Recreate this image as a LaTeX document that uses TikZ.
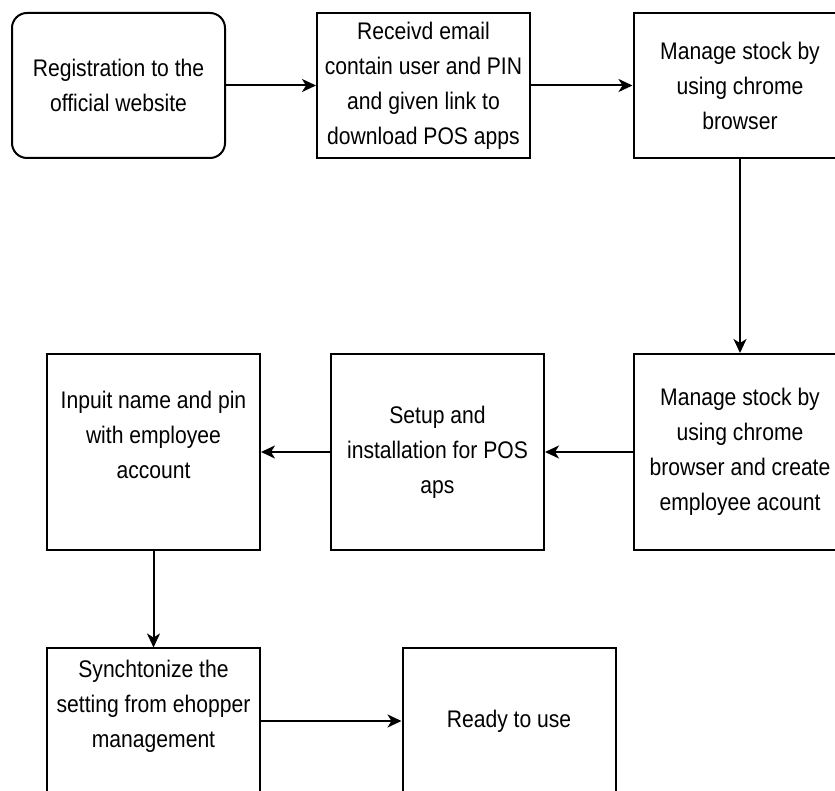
\documentclass[tikz,border=0pt]{standalone}
\usepackage{fontspec}
\setmainfont[FakeStretch=0.88]{Liberation Sans}
\usepackage{tikz}
\usetikzlibrary{arrows.meta, positioning}

\begin{document}
\begin{tikzpicture}[x=1pt, y=1pt,
    box/.style={draw=black, line width=2pt, fill=white,
                minimum width=213pt, minimum height=145pt, inner sep=0pt,
                align=center, font=\fontsize{24}{35}\selectfont},
    tall/.style={box, minimum height=196pt},
    arrow/.style={-{Stealth[length=14pt, width=13pt, inset=4pt]}, line width=2pt, black}
]
    \clip (0,0) rectangle (835,790);
    \fill[white] (0,0) rectangle (835,790);

    \node[box, rounded corners=15pt] (reg) at (118.5,704.5) {Registration to the\\official website};
    \node[box] (mail) at (423.5,704.5) {Receivd email\\contain user and PIN\\and given link to\\download POS apps};
    \node[box] (stock) at (740,704.5) {Manage stock by\\using chrome\\browser};

    \node[tall] (emp) at (740,338) {Manage stock by\\using chrome\\browser and create\\employee acount};
    \node[tall] (setup) at (437.5,338) {Setup and\\installation for POS\\aps};
    \node[tall] (pin) at (153.5,338) {Inpuit name and pin\\with employee\\account\\[0pt]~};

    \node[box] (sync) at (153.5,69) {Synchtonize the\\setting from ehopper\\management\\[0pt]~};
    \node[box] (ready) at (509,69) {Ready to use};

    \draw[arrow] (reg) -- (mail);
    \draw[arrow] (mail) -- (stock);
    \draw[arrow] (stock) -- (emp);
    \draw[arrow] (emp) -- (setup);
    \draw[arrow] (setup) -- (pin);
    \draw[arrow] (pin) -- (sync);
    \draw[arrow] (sync) -- (ready);
\end{tikzpicture}
\end{document}
